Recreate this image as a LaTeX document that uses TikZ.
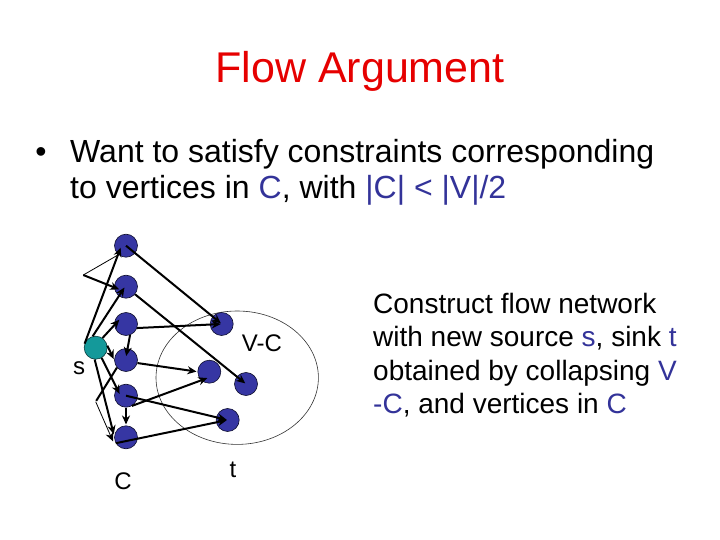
\documentclass[tikz,border=0pt]{standalone}
\usepackage{fontspec}
\setmainfont{Liberation Sans}
\usepackage{tikz}
\usetikzlibrary{arrows.meta, calc}
\definecolor{slideRed}{HTML}{E60000}
\definecolor{slideBlue}{HTML}{333399}
\definecolor{vertexB}{HTML}{3636A3}
\definecolor{vertexS}{HTML}{14999A}
\tikzset{
	% vertices of the graph
	vtx/.style={circle, draw=black!70!slideBlue, line width=0.6pt, fill=vertexB, minimum size=23pt, inner sep=0pt},
	src/.style={vtx, fill=vertexS, draw=black!60!vertexS},
	% connectors
	flow/.style={line width=2pt, -{Stealth[length=9pt, width=8pt]}, shorten >=1pt},
	thinflow/.style={line width=0.8pt},
	lbl/.style={font=\fontsize{24}{28}\selectfont, inner sep=0pt},
	body/.style={font=\fontsize{32}{36}\selectfont, inner sep=0pt, anchor=base west},
	side/.style={font=\fontsize{28}{33}\selectfont, inner sep=0pt, anchor=base west}
}

\begin{document}
\begin{tikzpicture}[x=1pt, y=-1pt]
	\useasboundingbox[fill=white] (0,0) rectangle (720,540);
	% title and bullet
	\node[font=\fontsize{43}{48}\selectfont, text=slideRed, inner sep=0pt, anchor=base] (title) at (360,83) {Flow Argument};
	\node[body, anchor=base] (dot) at (41,163) {\textbullet};
	\node[body] (bl1) at (70,163) {Want to satisfy constraints corresponding};
	\node[body] (bl2) at (70,199) {to vertices in \textcolor{slideBlue}{C}, with \textcolor{slideBlue}{|C| < |V|/2}};
	% text at the right
	\node[side] (rt1) at (373,313.3) {Construct flow network};
	\node[side] (rt2) at (373,346.7) {with new source \textcolor{slideBlue}{s}, sink \textcolor{slideBlue}{t}};
	\node[side] (rt3) at (373,380) {obtained by collapsing \textcolor{slideBlue}{V}};
	\node[side] (rt4) at (373,413.3) {\textcolor{slideBlue}{-C}, and vertices in \textcolor{slideBlue}{C}};
	% the collapsed part V-C
	\draw[line width=0.6pt, black!80] (237.2,377.7) ellipse [x radius=81.2, y radius=66.7];
	% vertices in C
	\foreach \i/\y in {1/245.7, 2/286.7, 3/324, 4/360, 5/395.7, 6/437.3}
		\node[vtx] (c\i) at (126,\y) {};
	\node[src] (s) at (95.7,347.7) {};
	\node[vtx] (v1) at (221.7,324) {};
	\node[vtx] (v2) at (209.3,371.7) {};
	\node[vtx] (v3) at (246,384) {};
	\node[vtx] (v4) at (227.7,420) {};
	\node[lbl] (lvc) at (262,343.5) {V-C};
	\node[lbl] (ls) at (79,368) {s};
	\node[lbl] (lc) at (123,481) {C};
	\node[lbl] (lt) at (233,470) {t};
	% edges out of the source
	\draw[flow] (s.160) -- ($(c1.center)+(-5,1)$);
	\draw[flow] (s.105) -- ($(c2.center)+(-1,0)$);
	\draw[flow] (s.55) -- ($(c3.center)+(-6,-5)$);
	\draw[flow] (s.10) -- (c4.west);
	\draw[flow] (s.-60) -- ($(c5.center)+(-6,-1)$);
	\draw[flow] (s.-95) -- ($(c6.center)+(-12,-2)$);
	% edges out of C
	\draw[flow] (c1.center) -- (v1.center);
	\draw[flow] (c2.-40) -- (v3.center);
	\draw[flow] (c3.-20) -- (v1.center);
	\draw[flow] (c3.-70) -- ($(c4.center)+(0,-3)$);
	\draw[flow] (c4.-15) -- (v2.west);
	\draw[flow] (c5.center) -- (v4.center);
	\draw[flow] (c5.-60) -- ($(v2.center)+(-1,6)$);
	\draw[flow] (c5.south) -- (c6.north);
	\draw[flow] (c6.-150) -- (v4.center);
	% bent edges
	\coordinate (k1) at (83.3,275);
	\coordinate (k2) at (95.7,401.7);
	\draw[thinflow] (c1.-130) -- (k1);
	\draw[flow] (k1) -- ($(c2.center)+(-6,3)$);
	\draw[flow, -] (c4.-140) -- (k2);
	\draw[thinflow, -{Stealth[length=9pt, width=8pt]}] (k2) -- ($(c6.center)+(-13,4)$);
\end{tikzpicture}
\end{document}
